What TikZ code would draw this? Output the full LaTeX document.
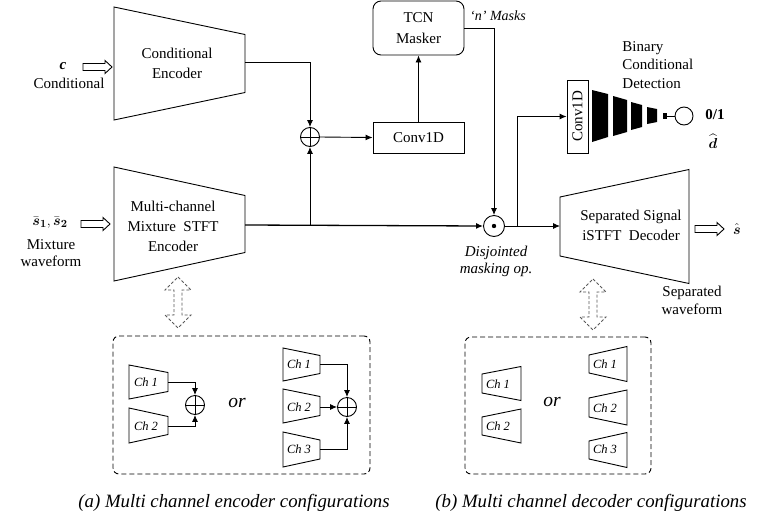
\documentclass[tikz,border=0pt]{standalone}
\usepackage{fontspec}
\setmainfont{Liberation Serif}
\usepackage{amsmath}
\usetikzlibrary{arrows.meta}
\tikzset{
 arr/.style={-{Latex[length=7pt,width=6pt]}},
 lbl/.style={align=center, inner sep=0pt, font=\fontsize{15}{20}\selectfont},
 chl/.style={inner sep=0pt, font=\fontsize{12.5}{14}\selectfont\itshape},
 orl/.style={inner sep=0pt, font=\fontsize{19.5}{20}\selectfont\itshape},
 capl/.style={inner sep=0pt, font=\fontsize{18.8}{20}\selectfont\itshape},
 oplus/.style={circle, draw, minimum size=19pt, inner sep=0pt,
   path picture={\draw (path picture bounding box.north) -- (path picture bounding box.south)
     (path picture bounding box.west) -- (path picture bounding box.east);}},
 odot/.style={circle, draw, minimum size=21pt, inner sep=0pt,
   path picture={\fill (path picture bounding box.center) circle (2.2pt);}},
 dbox/.style={draw, dash pattern=on 5pt off 3pt, rounded corners=6pt, inner sep=0pt},
 harrow/.pic={\draw (0,-3.5) -- (22,-3.5) -- (22,-6.5) -- (29,0) -- (22,6.5) -- (22,3.5) -- (0,3.5) -- cycle;},
 darrow/.pic={\draw[densely dashed, black!65] (0,0) -- (13,13) -- (4,13) -- (4,38) -- (13,38) -- (0,51) -- (-13,38) -- (-4,38) -- (-4,13) -- (-13,13) -- cycle;},
}
\newcommand\trapz[5]{\draw ({#1},{#2-#4/2}) -- ({#1+#3},{#2-#5/2}) -- ({#1+#3},{#2+#5/2}) -- ({#1},{#2+#4/2}) -- cycle;}
\begin{document}
\begin{tikzpicture}[x=1pt,y=-1pt,line width=0.9pt]
\useasboundingbox (0,0) rectangle (768,525);
% ---------- conditional encoder
\trapz{114}{63.5}{131}{113}{58}
\node[lbl] (cetext) at (177,63) {Conditional\\Encoder};
\coordinate (ceout) at (245,62);
\node[inner sep=0pt, font=\fontsize{15}{17}\selectfont] (clab) at (63,66) {\textbf{\textit{c}}};
\node[lbl] (cname) at (69,83) {Conditional};
\pic at (83,67) {harrow};
% ---------- mixture encoder
\trapz{114}{224}{131}{114}{57}
\node[lbl] (metext) at (173,226) {Multi-channel\\Mixture\ \ STFT\\Encoder};
\coordinate (meout) at (245,225);
\node[inner sep=0pt, font=\fontsize{15}{17}\selectfont] (slab) at (50,223) {$\bar{\boldsymbol{s}}_{\boldsymbol{1}},\bar{\boldsymbol{s}}_{\boldsymbol{2}}$};
\node[lbl, font=\fontsize{15}{17}\selectfont] (mwav) at (51,253) {Mixture\\waveform};
\pic at (81,224) {harrow};
% ---------- TCN, Conv1D, sum, mask
\node[draw, rounded corners=8pt, minimum width=91pt, minimum height=54pt, lbl, font=\fontsize{15}{21}\selectfont] (tcn) at (418.5,28) {TCN\\Masker};
\node[draw, minimum width=91pt, minimum height=31pt, lbl] (conv) at (418.5,137.5) {Conv1D};
\node[oplus] (op1) at (310,137) {};
\node[odot] (mask) at (494,226) {};
\coordinate (br1) at (310,225);
\coordinate (br2) at (517,226);
\draw[arr] (ceout) -| (op1.north);
\draw[arr, line width=1.3pt] (meout) -- (mask.west);
\draw[arr] (br1) -- (op1.south);
\draw[arr] (op1.east) -- (conv.west);
\draw[arr] (conv.north) -- (tcn.south);
\draw[arr] (tcn.east) -| (mask.north);
\node[inner sep=0pt, font=\fontsize{14}{16}\selectfont\itshape] (nm) at (498,16) {`n' Masks};
\node[lbl, font=\fontsize{15}{17}\selectfont\itshape] (dj) at (496,261) {Disjointed\\masking op.};
% ---------- decoder
\trapz{560}{226.5}{129}{59}{114}
\node[lbl] (dtext) at (631,225) {Separated Signal\\iSTFT\ \ Decoder};
\coordinate (decin) at (560,226);
\draw[arr] (mask.east) -- (decin);
\pic at (695,229) {harrow};
\node[inner sep=0pt, font=\fontsize{15}{17}\selectfont] (shat) at (737,229) {$\hat{\boldsymbol{s}}$};
\node[lbl, font=\fontsize{15}{18}\selectfont] (sw) at (692,300) {Separated\\waveform};
% ---------- detection branch
\node[draw, minimum width=21pt, minimum height=73pt, inner sep=0pt] (cv) at (577.5,116.5) {};
\node[rotate=90, lbl] (cvt) at (cv.center) {Conv1D};
\draw[arr] (br2) |- (cv.west);
\fill (592,90) -- (608,94) -- (608,137) -- (592,142) -- cycle;
\fill (613,96) -- (627,100) -- (627,132) -- (613,136) -- cycle;
\fill (631,102) -- (642,105) -- (642,127) -- (631,130) -- cycle;
\fill (647,107) -- (657,109) -- (657,122) -- (647,124) -- cycle;
\fill (663,113) rectangle (667,119);
\coordinate (sq) at (667,116);
\node[circle, draw, minimum size=18pt, inner sep=0pt] (outc) at (684,116) {};
\draw (sq) -- (outc.west);
\node[inner sep=0pt, font=\fontsize{15}{17}\selectfont\bfseries] (o1) at (715,115) {0/1};
\node[inner sep=0pt, font=\fontsize{15}{17}\selectfont] (dh) at (713,141) {$\widehat{\boldsymbol{d}}$};
\node[lbl, align=left, anchor=west, font=\fontsize{15}{18.5}\selectfont] (bcd) at (622,65) {Binary\\Conditional\\Detection};
% ---------- dashed double arrows
\pic at (178,277) {darrow};
\pic at (593,279) {darrow};
% ---------- encoder configurations
\node[dbox, minimum width=257pt, minimum height=138pt] (encbox) at (241.5,405) {};
\trapz{129}{382}{39}{34}{19}
\trapz{129}{425.5}{39}{35}{18}
\node[chl] (e1) at (146,382) {Ch 1};
\node[chl] (e2) at (146,426) {Ch 2};
\node[oplus] (op2) at (195,405) {};
\coordinate (e1o) at (168,382);
\coordinate (e2o) at (168,426);
\draw[arr] (e1o) -| (op2.north);
\draw[arr] (e2o) -| (op2.south);
\node[orl] (or1) at (237,403) {or};
\trapz{283}{364.5}{37}{33}{18}
\trapz{283}{406}{37}{34}{19}
\trapz{283}{449.5}{37}{35}{19}
\node[chl] (f1) at (299,364) {Ch 1};
\node[chl] (f2) at (299,407) {Ch 2};
\node[chl] (f3) at (299,449) {Ch 3};
\node[oplus] (op3) at (347,407) {};
\coordinate (f1o) at (320,364);
\coordinate (f2o) at (320,407);
\coordinate (f3o) at (320,449);
\draw[arr] (f1o) -| (op3.north);
\draw[arr] (f2o) -- (op3.west);
\draw[arr] (f3o) -| (op3.south);
% ---------- decoder configurations
\node[dbox, minimum width=186pt, minimum height=137pt] (decbox) at (558,405.5) {};
\trapz{482}{383.5}{39}{19}{34}
\trapz{482}{426}{39}{18}{34}
\node[chl] (d1) at (498,384) {Ch 1};
\node[chl] (d2) at (498,426) {Ch 2};
\node[orl] (or2) at (552,402) {or};
\trapz{589}{364}{38}{18}{35}
\trapz{589}{407.5}{38}{19}{35}
\trapz{589}{450}{38}{18}{35}
\node[chl] (g1) at (605,364) {Ch 1};
\node[chl] (g2) at (605,408) {Ch 2};
\node[chl] (g3) at (605,449) {Ch 3};
% ---------- captions
\node[capl] (capa) at (234,503) {(a) Multi channel encoder configurations};
\node[capl] (capb) at (591,503) {(b) Multi channel decoder configurations};
\end{tikzpicture}
\end{document}
